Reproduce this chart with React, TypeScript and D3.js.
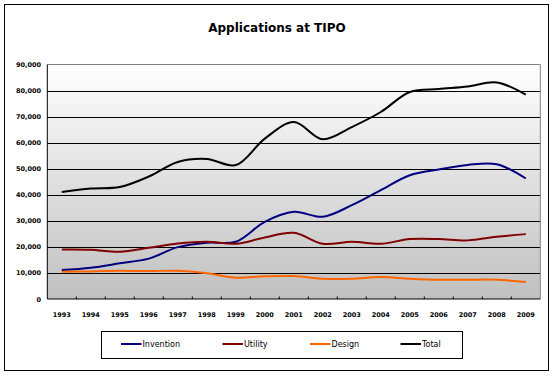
import React from "react";
import * as d3 from "d3";

const years = ["1993","1994","1995","1996","1997","1998","1999","2000","2001","2002","2003","2004","2005","2006","2007","2008","2009"];
const invention = [11100,12000,13700,15500,19900,21600,21950,29600,33450,31550,36000,41760,47500,49700,51450,51700,46250];
const utility = [19000,18900,18100,19650,21300,21950,21200,23600,25400,21200,21950,21200,23000,23000,22500,23900,24900];
const design = [10500,10600,10850,10700,10850,9850,8200,8700,8800,7800,7800,8430,7800,7400,7400,7400,6500];
const total = [41100,42400,43000,47000,52600,53750,51400,61550,67900,61300,66000,71770,79450,80600,81600,83100,78400];
const yTicks = [0,10000,20000,30000,40000,50000,60000,70000,80000,90000];

const seriesNames = ["Invention","Utility","Design","Total"];
const seriesData = [invention, utility, design, total];
const colors = ["#000080","#800000","#FF6600","#000000"];

export default function App() {
  const W = 554, H = 376;
  const left = 47.3, right = 540.3, top = 64.5, bottom = 299;
  const x = d3.scaleBand().domain(years).range([left, right]).paddingInner(0).paddingOuter(0);
  const y = d3.scaleLinear().domain([0, 90000]).range([bottom, top]);
  const line = d3.line<number>()
    .x((_, i) => (x(years[i]) as number) + x.bandwidth() / 2)
    .y(d => y(d))
    .curve(d3.curveCatmullRom.alpha(0.5));
  const fmt = d3.format(",");
  const legendX = [121, 222.5, 310, 400.5];
  const font = "'DejaVu Sans', Verdana, sans-serif";
  return (
    <svg width={W} height={H} style={{ position: "absolute", left: 0, top: 0, background: "#fff" }}>
      <defs>
        <linearGradient id="bg" x1="0" y1="0" x2="0" y2="1">
          <stop offset="0" stopColor="#ffffff" />
          <stop offset="1" stopColor="#c0c0c0" />
        </linearGradient>
      </defs>
      <rect x={4.5} y={4.5} width={544} height={366} fill="#fff" stroke="#000" strokeWidth={1} />
      <text x={277} y={32} textAnchor="middle" fontFamily={font} fontWeight="bold" fontSize={12} fill="#000">Applications at TIPO</text>
      <rect x={left} y={top} width={right - left} height={bottom - top} fill="url(#bg)" />
      {yTicks.filter(t => t > 0 && t < 90000).map(t => (
        <line key={t} x1={left} x2={right} y1={Math.round(y(t)) + 0.5} y2={Math.round(y(t)) + 0.5} stroke="#000" strokeWidth={1} />
      ))}
      <line x1={left} x2={right} y1={top} y2={top} stroke="#808080" />
      <line x1={right} x2={right} y1={top} y2={bottom} stroke="#808080" />
      <line x1={left} x2={left} y1={top} y2={bottom} stroke="#000" />
      <line x1={left} x2={right} y1={bottom} y2={bottom} stroke="#000" />
      {years.map((yr, i) => i > 0 ? (
        <line key={"t" + yr} x1={x(yr) as number} x2={x(yr) as number} y1={bottom} y2={bottom - 2.5} stroke="#000" />
      ) : null)}
      {yTicks.map(t => (
        <text key={"yl" + t} x={41} y={y(t) + 2.5} textAnchor="end" fontFamily={font} fontWeight="bold" fontSize={6.5} fill="#000">{fmt(t)}</text>
      ))}
      {years.map(yr => (
        <text key={"xl" + yr} x={(x(yr) as number) + x.bandwidth() / 2} y={316.5} textAnchor="middle" fontFamily={font} fontWeight="bold" fontSize={6.5} fill="#000">{yr}</text>
      ))}
      {seriesData.map((s, k) => (
        <path key={seriesNames[k]} d={line(s) || ""} fill="none" stroke={colors[k]} strokeWidth={2} />
      ))}
      <rect x={101.5} y={331.5} width={361} height={27} fill="#fff" stroke="#000" />
      {seriesNames.map((n, k) => (
        <g key={"lg" + n}>
          <line x1={legendX[k]} x2={legendX[k] + 20.5} y1={344} y2={344} stroke={colors[k]} strokeWidth={2} />
          <text x={legendX[k] + 21.5} y={347} fontFamily={font} fontSize={8} fill="#000">{n}</text>
        </g>
      ))}
    </svg>
  );
}
